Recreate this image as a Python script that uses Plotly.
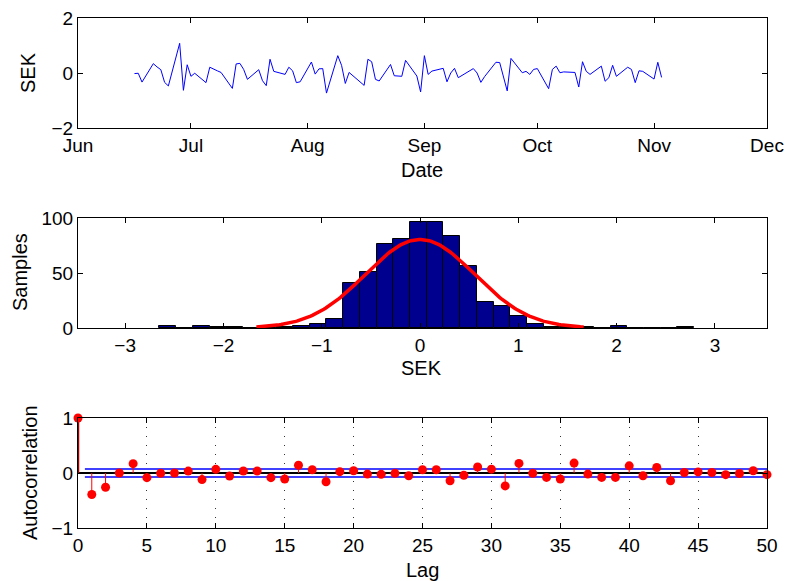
import numpy as np
import plotly.graph_objects as go

# ---------------- data ----------------
dates = [
    "2010-06-16", "2010-06-17", "2010-06-18",
    "2010-06-21", "2010-06-22", "2010-06-23", "2010-06-24", "2010-06-25",
    "2010-06-28", "2010-06-29", "2010-06-30", "2010-07-01", "2010-07-02",
    "2010-07-05", "2010-07-06", "2010-07-07", "2010-07-08", "2010-07-09",
    "2010-07-12", "2010-07-13", "2010-07-14", "2010-07-15", "2010-07-16",
    "2010-07-19", "2010-07-20", "2010-07-21", "2010-07-22", "2010-07-23",
    "2010-07-26", "2010-07-27", "2010-07-28", "2010-07-29", "2010-07-30",
    "2010-08-02", "2010-08-03", "2010-08-04", "2010-08-05", "2010-08-06",
    "2010-08-09", "2010-08-10", "2010-08-11", "2010-08-12", "2010-08-13",
    "2010-08-16", "2010-08-17", "2010-08-18", "2010-08-19", "2010-08-20",
    "2010-08-23", "2010-08-24", "2010-08-25", "2010-08-26", "2010-08-27",
    "2010-08-30", "2010-08-31", "2010-09-01", "2010-09-02", "2010-09-03",
    "2010-09-06", "2010-09-07", "2010-09-08", "2010-09-09", "2010-09-10",
    "2010-09-13", "2010-09-14", "2010-09-15", "2010-09-16", "2010-09-17",
    "2010-09-20", "2010-09-21", "2010-09-22", "2010-09-23", "2010-09-24",
    "2010-09-27", "2010-09-28", "2010-09-29", "2010-09-30", "2010-10-01",
    "2010-10-04", "2010-10-05", "2010-10-06", "2010-10-07", "2010-10-08",
    "2010-10-11", "2010-10-12", "2010-10-13", "2010-10-14", "2010-10-15",
    "2010-10-18", "2010-10-19", "2010-10-20", "2010-10-21", "2010-10-22",
    "2010-10-25", "2010-10-26", "2010-10-27", "2010-10-28", "2010-10-29",
    "2010-11-01", "2010-11-02", "2010-11-03",
]
sek_returns = [
    -0.02, -0.01, -0.33,
    0.34, 0.22, 0.12, -0.34, -0.47,
    1.08, -0.63, 0.30, -0.12, -0.01,
    -0.35, 0.21, 0.13, 0.08, 0.02,
    -0.56, 0.33, 0.35, 0.13, -0.23,
    0.12, -0.28, -0.46, 0.50, 0.06,
    -0.05, 0.21, 0.08, -0.35, -0.32,
    0.40, -0.04, 0.15, 0.16, -0.73,
    0.63, 0.28, -0.38, 0.02, -0.10,
    -0.45, 0.50, 0.41, -0.23, -0.29,
    0.31, -0.10, -0.11, -0.12, 0.46,
    -0.11, -0.69, 0.63, -0.05, 0.07,
    0.17, -0.32, 0.00, 0.17, -0.17,
    0.10, 0.16, 0.00, -0.34, -0.13,
    0.39, 0.38, -0.10, -0.65, 0.53,
    0.01, 0.06, -0.05, 0.13, 0.16,
    -0.57, 0.13, 0.25, 0.01, 0.04,
    0.02, -0.51, 0.41, 0.06, -0.05,
    0.25, -0.30, -0.17, 0.28, -0.12,
    0.21, 0.13, -0.35, 0.08, 0.06,
    -0.22, 0.39, -0.16,
]
month_ticks = ["2010-06-01", "2010-07-01", "2010-08-01", "2010-09-01",
               "2010-10-01", "2010-11-01", "2010-12-01"]
month_labels = ["Jun", "Jul", "Aug", "Sep", "Oct", "Nov", "Dec"]

bin_centers = [-2.567, -2.397, -2.227, -2.057, -1.887, -1.717, -1.547, -1.377,
               -1.207, -1.037, -0.867, -0.697, -0.527, -0.357, -0.187, -0.017,
               0.153, 0.323, 0.493, 0.663, 0.833, 1.003, 1.173, 1.343,
               1.513, 1.683, 1.853, 2.023, 2.193, 2.363, 2.533, 2.703]
bin_counts = [2, 0, 2, 1, 1, 0, 0, 1,
              2, 4, 8, 41, 51, 76, 81, 96,
              96, 84, 56, 24, 20, 11, 4, 1,
              1, 1, 0, 2, 0, 0, 0, 1]
bin_width = 0.17
fit_mean = 0.0
fit_std = 0.555
fit_peak = 80.5

lags = list(range(0, 51))
acf = [1.0, -0.39, -0.26, 0.0, 0.17, -0.085, -0.005, 0.0, 0.035, -0.12,
       0.067, -0.055, 0.036, 0.036, -0.085, -0.11, 0.14, 0.06, -0.16, 0.024,
       0.04, -0.02, -0.024, -0.006, -0.05, 0.06, 0.06, -0.14, -0.04, 0.11,
       0.07, -0.235, 0.175, -0.005, -0.08, -0.11, 0.18, -0.02, -0.08, -0.08,
       0.13, -0.05, 0.1, -0.14, 0.01, 0.02, 0.01, -0.03, -0.01, 0.04, -0.03]
conf_bound = 0.073

# ---------------- figure ----------------
FONT = "Liberation Sans, Arial, Helvetica, sans-serif"
TICK_SIZE = 19
TITLE_SIZE = 20

fig = go.Figure()

# Panel 1: time series
fig.add_trace(go.Scatter(x=dates, y=sek_returns, mode="lines",
                         line=dict(color="#0000FF", width=1),
                         xaxis="x", yaxis="y", showlegend=False))

# Panel 2: histogram + normal fit
fig.add_trace(go.Bar(x=bin_centers, y=bin_counts, width=[bin_width] * len(bin_centers),
                     marker=dict(color="#00008F", line=dict(color="black", width=1)),
                     xaxis="x2", yaxis="y2", showlegend=False))
fx = np.linspace(fit_mean - 3 * fit_std, fit_mean + 3 * fit_std, 200)
fy = fit_peak * np.exp(-0.5 * ((fx - fit_mean) / fit_std) ** 2)
fig.add_trace(go.Scatter(x=fx, y=fy, mode="lines", line=dict(color="#FF0000", width=3.5),
                         xaxis="x2", yaxis="y2", showlegend=False))

# Panel 3: autocorrelation stem plot
fig.add_trace(go.Scatter(x=[0.5, 50], y=[conf_bound, conf_bound], mode="lines",
                         line=dict(color="#0000FF", width=1.3),
                         xaxis="x3", yaxis="y3", showlegend=False))
fig.add_trace(go.Scatter(x=[0.5, 50], y=[-conf_bound, -conf_bound], mode="lines",
                         line=dict(color="#0000FF", width=1.3),
                         xaxis="x3", yaxis="y3", showlegend=False))
fig.add_trace(go.Scatter(x=[0, 50], y=[0, 0], mode="lines",
                         line=dict(color="black", width=1.8),
                         xaxis="x3", yaxis="y3", showlegend=False))
stem_x, stem_y = [], []
for k, v in zip(lags[1:], acf[1:]):
    stem_x += [k, k, None]
    stem_y += [0, v, None]
fig.add_trace(go.Scatter(x=stem_x, y=stem_y, mode="lines",
                         line=dict(color="#FF0000", width=1),
                         xaxis="x3", yaxis="y3", showlegend=False))
fig.add_trace(go.Scatter(x=[lags[0], lags[0]], y=[0, acf[0]], mode="lines",
                         line=dict(color="#A00000", width=2.5), cliponaxis=False,
                         xaxis="x3", yaxis="y3", showlegend=False))
fig.add_trace(go.Scatter(x=lags, y=acf, mode="markers", cliponaxis=False,
                         marker=dict(color="#FF0000", size=9, line=dict(width=0)),
                         xaxis="x3", yaxis="y3", showlegend=False))

# ---------------- layout ----------------
L, R, T, B = 78, 20, 18, 53
W, H = 787, 581
PH = H - T - B
PW = W - L - R


def ydom(top_px, bot_px):
    return [(H - B - bot_px) / PH, (H - B - top_px) / PH]


axis_common = dict(showline=True, linecolor="black", linewidth=1, mirror="ticks",
                   ticks="inside", ticklen=5, tickwidth=1, tickcolor="black",
                   showgrid=False, zeroline=False, automargin=False,
                   tickfont=dict(family=FONT, size=TICK_SIZE, color="black"))

fig.update_layout(
    width=W, height=H,
    margin=dict(l=L, r=R, t=T, b=B, pad=0, autoexpand=False),
    paper_bgcolor="white", plot_bgcolor="white",
    font=dict(family=FONT, size=TICK_SIZE, color="black"),
    bargap=0,
    xaxis=dict(axis_common, type="date", range=["2010-06-01", "2010-12-01"],
               tickvals=month_ticks, ticktext=month_labels, anchor="y",
               domain=[0, 1]),
    yaxis=dict(axis_common, range=[-2, 2], tickvals=[-2, 0, 2], anchor="x",
               domain=ydom(18, 128)),
    xaxis2=dict(axis_common, range=[-3.48, 3.53], tickvals=[-3, -2, -1, 0, 1, 2, 3],
                anchor="y2", domain=[0, 1]),
    yaxis2=dict(axis_common, range=[0, 100], tickvals=[0, 50, 100], anchor="x2",
                domain=ydom(218, 328)),
    xaxis3=dict(axis_common, range=[0, 50], tickvals=list(range(0, 51, 5)),
                showgrid=True, gridcolor="#333333", griddash="1px,8px", gridwidth=1,
                anchor="y3", domain=[0, 1]),
    yaxis3=dict(axis_common, range=[-1, 1], tickvals=[-1, 0, 1], anchor="x3",
                domain=ydom(418, 528)),
)


def px_x(px):
    return (px - L) / PW


def px_y(py):
    return (H - B - py) / PH


titles = [
    ("SEK", 28, 73, -90),
    ("Date", 422, 170, 0),
    ("Samples", 20, 272, -90),
    ("SEK", 421, 368, 0),
    ("Autocorrelation", 30, 473, -90),
    ("Lag", 422, 570, 0),
]
for text, x, y, ang in titles:
    fig.add_annotation(text=text, x=px_x(x), y=px_y(y), xref="paper", yref="paper",
                       showarrow=False, textangle=ang, xanchor="center", yanchor="middle",
                       font=dict(family=FONT, size=TITLE_SIZE, color="black"))

fig.write_html("out.html")
